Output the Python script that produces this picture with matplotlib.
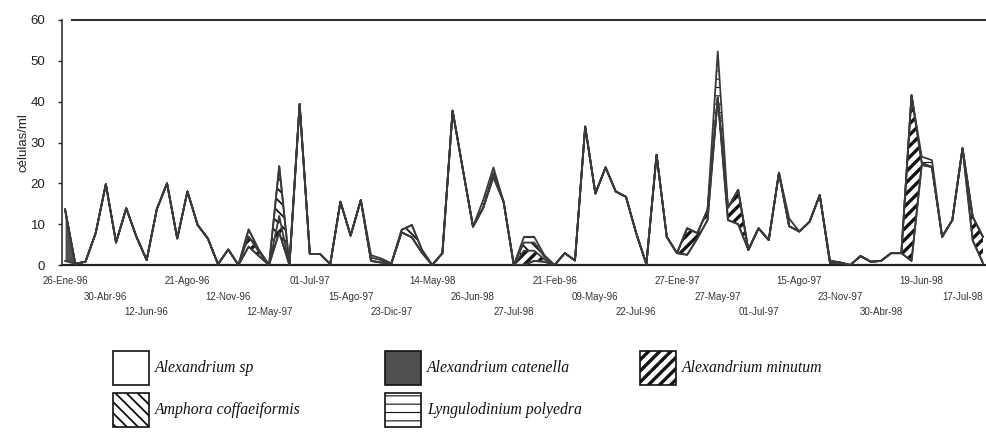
import numpy as np
import matplotlib
matplotlib.use("Agg")
import matplotlib.pyplot as plt
from matplotlib.patches import Rectangle

plt.rcParams['font.family'] = ['Liberation Sans', 'DejaVu Sans']
plt.rcParams['hatch.linewidth'] = 1.6

# ---------------- data ----------------
alex_sp = [1.0, 0.3, 0.8, 7.8, 19.8, 5.5, 13.9, 6.9, 1.2, 13.7,
           20.0, 6.5, 18.0, 9.8, 6.5, 0.2, 3.8, 0.0, 4.5, 2.2,
           0.0, 8.0, 0.0, 39.4, 2.7, 2.7, 0.2, 15.5, 7.2, 15.9,
           1.0, 0.6, 0.4, 8.0, 6.8, 3.0, 0.0, 2.9, 37.8, 23.5,
           9.4, 14.0, 21.5, 15.5, 0.0, 0.0, 1.0, 0.8, 0.0, 2.9,
           1.1, 33.9, 17.5, 23.9, 18.0, 16.7, 7.8, 0.2, 27.0, 6.9,
           2.9, 2.5, 6.5, 11.0, 41.0, 11.0, 10.0, 3.7, 9.0, 6.1,
           22.6, 9.5, 8.2, 10.6, 17.1, 0.5, 0.6, 0.0, 2.2, 0.8,
           1.0, 2.9, 2.9, 1.0, 24.5, 24.0, 6.9, 11.0, 28.6, 6.0,
           0.5]
alex_catenella = [12.6] + [0.0] * 90
alex_minutum = [0.0] * 91
for i, v in {18: 2.5, 19: 1.0, 21: 4.0, 42: 1.0, 45: 3.5, 46: 2.5, 47: 0.6,
             61: 6.5, 62: 1.3, 63: 2.5, 65: 3.0, 66: 8.4, 83: 40.6, 84: 0.5,
             89: 5.8, 90: 6.4}.items():
    alex_minutum[i] = v
amphora = [0.0] * 91
for i, v in {18: 1.7, 19: 0.5, 21: 12.2, 30: 0.8, 31: 0.6, 33: 0.6, 34: 3.0,
             35: 0.7, 45: 2.0, 46: 2.0, 47: 0.6, 75: 0.6}.items():
    amphora[i] = v
lyngulodinium = [0.0] * 91
for i, v in {30: 0.6, 31: 0.4, 41: 1.9, 42: 1.4, 45: 1.4, 46: 1.4, 47: 0.4,
             64: 11.3, 71: 1.9, 84: 1.5, 85: 1.7}.items():
    lyngulodinium[i] = v

tick_labels = ['26-Ene-96', '30-Abr-96', '12-Jun-96', '21-Ago-96', '12-Nov-96',
               '12-May-97', '01-Jul-97', '15-Ago-97', '23-Dic-97', '14-May-98',
               '26-Jun-98', '27-Jul-98', '21-Feb-96', '09-May-96', '22-Jul-96',
               '27-Ene-97', '27-May-97', '01-Jul-97', '15-Ago-97', '23-Nov-97',
               '30-Abr-98', '19-Jun-98', '17-Jul-98']
label_step = 4

series_names = ['Alexandrium sp', 'Alexandrium catenella', 'Alexandrium minutum',
                'Amphora coffaeiformis', 'Lyngulodinium polyedra']
series_vals = [alex_sp, alex_catenella, alex_minutum, amphora, lyngulodinium]
face = ['white', '#505050', 'white', 'white', 'white']
hatch = [None, None, '///', '\\\\\\', '--']
hatch_lw = [1.0, 1.0, 2.4, 1.3, 0.8]

# ---------------- figure ----------------
W, H = 987, 441
fig = plt.figure(figsize=(W / 100, H / 100), dpi=100)
ax = fig.add_axes([62 / W, 1 - 265 / H, (W - 62) / W, (265 - 20) / H])

x = np.arange(len(alex_sp))
base = np.zeros(len(x))
for vals, fc, ht, hl in zip(series_vals, face, hatch, hatch_lw):
    top = base + np.asarray(vals)
    coll = ax.fill_between(x, base, top, facecolor=fc, edgecolor='#111111',
                           hatch=ht, linewidth=0, zorder=2)
    try:
        coll.set_hatch_linewidth(hl)
    except Exception:
        pass
    ax.plot(x, top, color='#3a3a3a', lw=1.3, zorder=3)
    base = top

ax.set_xlim(-0.3, 90.4)
ax.set_ylim(0, 60)
ax.set_yticks(range(0, 61, 10))
ax.tick_params(axis='y', labelsize=9.5, length=3, width=1, pad=9,
               colors='#222222')
ax.set_xticks([])
for k, lab in enumerate(tick_labels):
    ax.annotate(lab, xy=(k * label_step, 0), xycoords='data',
                xytext=(0, -16 - 15.5 * (k % 3)), textcoords='offset pixels',
                ha='center', va='center', fontsize=7, color='#333333')

for s in ['top', 'right']:
    ax.spines[s].set_visible(False)
ax.spines['left'].set_color('#333333')
ax.spines['left'].set_linewidth(1.2)
ax.spines['bottom'].set_color('#222222')
ax.spines['bottom'].set_linewidth(1.6)
ax.axhline(60, xmin=0.011, xmax=1, color='#333333', lw=1.5, clip_on=False)
ax.set_ylabel('células/ml', fontsize=9.5, color='#222222', labelpad=1)
ax.patch.set_alpha(0)

# ---------------- legend ----------------
box_w, box_h = 36, 34
cols = [113, 385, 640]
rows = [351, 393]
positions = [(cols[0], rows[0]), (cols[1], rows[0]), (cols[2], rows[0]),
             (cols[0], rows[1]), (cols[1], rows[1])]
for name, fc, ht, hl, (px, py) in zip(series_names, face, hatch, hatch_lw, positions):
    r = Rectangle((px / W, 1 - (py + box_h) / H), box_w / W, box_h / H,
                  transform=fig.transFigure, facecolor=fc, edgecolor='#111111',
                  hatch=ht, linewidth=1.2)
    try:
        r.set_hatch_linewidth(hl)
    except Exception:
        pass
    fig.patches.append(r)
    fig.text((px + box_w + 6) / W, 1 - (py + box_h / 2) / H, name,
             family=['Liberation Serif', 'DejaVu Serif'], style='italic',
             fontsize=11.3, va='center', ha='left', color='#111111')

fig.savefig('out.png', dpi=100)
